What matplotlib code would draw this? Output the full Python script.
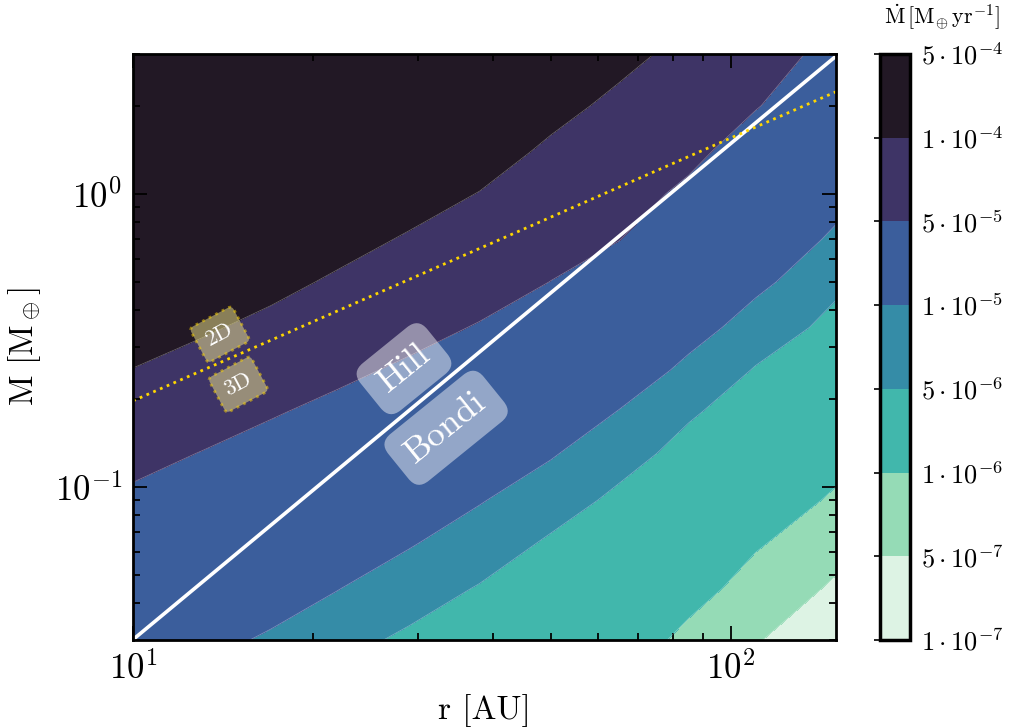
import numpy as np
import matplotlib
matplotlib.use("Agg")
import matplotlib.pyplot as plt
from matplotlib.ticker import NullFormatter

plt.rcParams.update({
    "font.family": "cmr10",
    "mathtext.fontset": "cm",
    "axes.formatter.use_mathtext": True,
    "axes.unicode_minus": False,
})

# Orbital distance grid [AU] and planet mass grid [Earth masses]
r_au = [10, 13, 17, 22, 29, 38, 50, 65, 85, 110, 150]
m_earth = [0.03, 0.045, 0.065, 0.09, 0.13, 0.18, 0.25, 0.35, 0.5, 0.7, 1.0, 1.4, 2.0, 3.0]

# log10 of the accretion rate [M_earth / yr]; one row per mass, one column per distance
log_mdot = [
    [-4.759, -4.902, -5.050, -5.202, -5.369, -5.522, -5.745, -5.853, -6.085, -6.284, -6.523],
    [-4.608, -4.703, -4.852, -4.993, -5.163, -5.324, -5.534, -5.677, -5.904, -6.122, -6.351],
    [-4.473, -4.561, -4.670, -4.811, -4.976, -5.143, -5.342, -5.517, -5.736, -5.969, -6.194],
    [-4.355, -4.443, -4.534, -4.650, -4.813, -4.984, -5.171, -5.376, -5.588, -5.814, -6.056],
    [-4.226, -4.308, -4.399, -4.484, -4.629, -4.798, -4.978, -5.192, -5.420, -5.638, -5.887],
    [-4.116, -4.196, -4.282, -4.366, -4.467, -4.634, -4.811, -5.012, -5.265, -5.483, -5.732],
    [-4.005, -4.083, -4.169, -4.253, -4.341, -4.468, -4.642, -4.837, -5.077, -5.326, -5.574],
    [-3.916, -3.975, -4.054, -4.144, -4.231, -4.317, -4.469, -4.660, -4.896, -5.135, -5.414],
    [-3.823, -3.882, -3.948, -4.029, -4.123, -4.208, -4.304, -4.472, -4.712, -4.941, -5.239],
    [-3.735, -3.794, -3.861, -3.936, -4.020, -4.110, -4.216, -4.295, -4.538, -4.777, -5.067],
    [-3.642, -3.701, -3.768, -3.843, -3.924, -4.006, -4.123, -4.209, -4.354, -4.604, -4.887],
    [-3.555, -3.614, -3.680, -3.755, -3.837, -3.918, -4.035, -4.130, -4.240, -4.440, -4.719],
    [-3.462, -3.521, -3.587, -3.662, -3.744, -3.825, -3.942, -4.047, -4.156, -4.287, -4.541],
    [-3.356, -3.415, -3.482, -3.556, -3.638, -3.719, -3.836, -3.947, -4.060, -4.182, -4.400],
]

# Contour levels and their colorbar labels
levels = [1e-7, 5e-7, 1e-6, 5e-6, 1e-5, 5e-5, 1e-4, 5e-4]
level_labels = [r"$1\cdot10^{-7}$", r"$5\cdot10^{-7}$", r"$1\cdot10^{-6}$", r"$5\cdot10^{-6}$",
                r"$1\cdot10^{-5}$", r"$5\cdot10^{-5}$", r"$1\cdot10^{-4}$", r"$5\cdot10^{-4}$"]
band_colors = ["#ddf3e4", "#95dbb6", "#41b7ac", "#358ca7", "#3b5e9c", "#3e3466", "#221825"]

# Hill/Bondi transition mass and 2D/3D transition mass (end points)
hb_r = [10, 150]
hb_m = [0.0301, 2.95]
dim_r = [10, 150]
dim_m = [0.1965, 2.23]

fig = plt.figure(figsize=(10.21, 7.28), dpi=100)
ax = fig.add_axes([0.1303, 0.1209, 0.6885, 0.8049])
cax = fig.add_axes([0.8619, 0.1209, 0.0294, 0.8049])

ax.set_xscale("log")
ax.set_yscale("log")
ax.set_xlim(10, 150)
ax.set_ylim(0.03, 3)

# interpolate the rate grid in log-log space, then map back onto the log axes
log_space = ax.transScale.inverted() + ax.transData
LR, LM = np.meshgrid(np.log10(r_au), np.log10(m_earth))
mdot = 10.0 ** np.array(log_mdot)
cf = ax.contourf(LR, LM, mdot, levels=levels, colors=band_colors, transform=log_space)
ax.contour(LR, LM, mdot, levels=levels, colors="white", linewidths=0.5, alpha=0.35,
           transform=log_space)

ax.plot(hb_r, hb_m, color="white", lw=2.6, solid_capstyle="butt")
ax.plot(dim_r, dim_m, color="gold", lw=2.0, ls=":")

ax.set_xlim(10, 150)
ax.set_ylim(0.03, 3)

hb_box = dict(boxstyle="round,pad=0.4", fc="white", ec="none", alpha=0.45)
ax.text(28.4, 0.253, "Hill", rotation=39, ha="center", va="center", color="white",
        fontsize=26, bbox=hb_box, rotation_mode="anchor")
ax.text(33.4, 0.159, "Bondi", rotation=39, ha="center", va="center", color="white",
        fontsize=26, bbox=hb_box, rotation_mode="anchor")

dim_box = dict(boxstyle="round,pad=0.45,rounding_size=0.2", fc="khaki", ec="gold",
               ls=":", lw=2, alpha=0.5)
ax.text(13.97, 0.331, "2D", rotation=28, ha="center", va="center", color="white",
        fontsize=16, bbox=dim_box, rotation_mode="anchor")
ax.text(15.0, 0.2235, "3D", rotation=28, ha="center", va="center", color="white",
        fontsize=16, bbox=dim_box, rotation_mode="anchor")

ax.tick_params(which="both", direction="in", top=True, right=True, width=1.3, labelsize=25)
ax.tick_params(which="major", length=10, pad=8)
ax.tick_params(which="minor", length=5)
ax.xaxis.set_minor_formatter(NullFormatter())
ax.yaxis.set_minor_formatter(NullFormatter())
for s in ax.spines.values():
    s.set_linewidth(2)

ax.set_xlabel(r"r [AU]", fontsize=24, labelpad=6)
ax.set_ylabel(r"M [M$_\oplus$]", fontsize=24, labelpad=8)

cbar = fig.colorbar(cf, cax=cax, ticks=levels)
cbar.ax.set_yticklabels(level_labels)
cbar.ax.minorticks_off()
cbar.outline.set_linewidth(2.5)
cax.tick_params(which="both", left=True, right=False, labelleft=False, labelright=True,
                direction="out", length=4, width=1.2, labelsize=19, pad=4)

fig.text(942 / 1021, 1 - 17 / 728,
         r"$\dot{\mathrm{M}}\,[\mathrm{M}_{\oplus}\,\mathrm{yr}^{-1}]$",
         ha="center", va="center", fontsize=16)

fig.savefig("out.png", dpi=100)
